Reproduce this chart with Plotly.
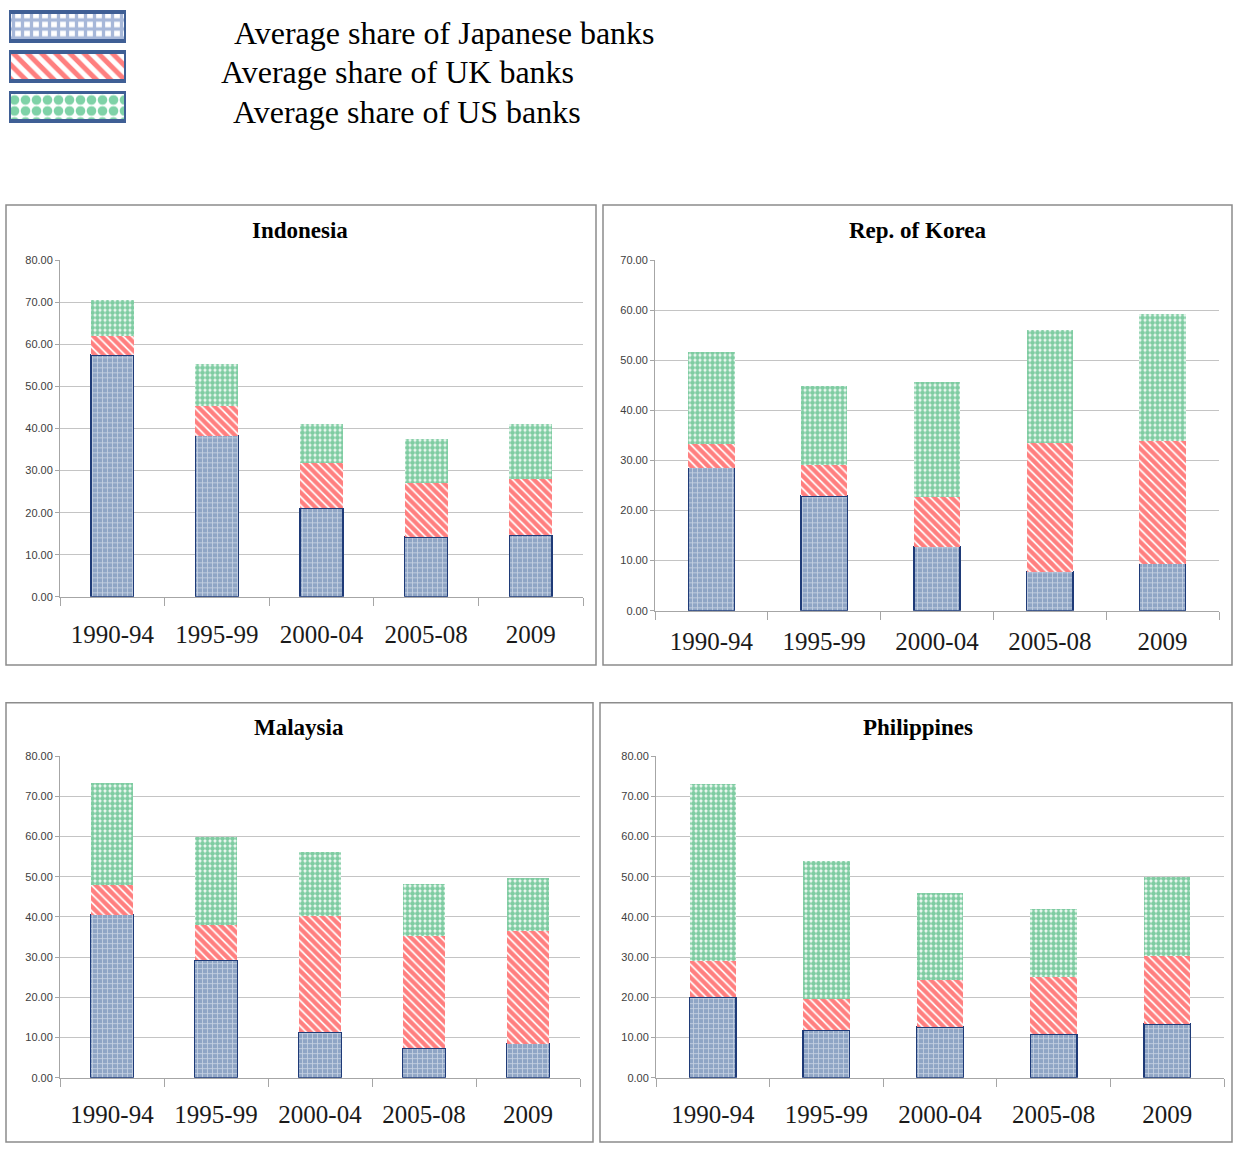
import plotly.graph_objects as go

W, H = 1233, 1155

categories = ["1990-94", "1995-99", "2000-04", "2005-08", "2009"]
series_names = ["Average share of Japanese banks", "Average share of UK banks", "Average share of US banks"]

indonesia_japan = [57.5, 38.3, 21.0, 14.2, 14.6]
indonesia_uk = [4.5, 7.0, 10.8, 12.8, 13.4]
indonesia_us = [8.5, 10.0, 9.2, 10.5, 13.2]

korea_japan = [28.6, 22.9, 12.8, 7.8, 9.4]
korea_uk = [4.7, 6.2, 9.9, 25.7, 24.5]
korea_us = [18.4, 15.7, 23.0, 22.5, 25.3]

malaysia_japan = [40.6, 29.2, 11.3, 7.3, 8.5]
malaysia_uk = [7.4, 8.8, 28.9, 27.9, 28.0]
malaysia_us = [25.4, 21.8, 16.0, 12.9, 13.2]

philippines_japan = [20.0, 11.8, 12.6, 10.8, 13.4]
philippines_uk = [9.1, 7.7, 11.7, 14.2, 17.0]
philippines_us = [44.0, 34.3, 21.7, 17.0, 19.6]

legend_swatch_value = [1, 1, 1]

panels = [
    ("Indonesia", indonesia_japan, indonesia_uk, indonesia_us, 80),
    ("Rep. of Korea", korea_japan, korea_uk, korea_us, 70),
    ("Malaysia", malaysia_japan, malaysia_uk, malaysia_us, 80),
    ("Philippines", philippines_japan, philippines_uk, philippines_us, 80),
]

# pixel geometry: plot area (x0,x1), (y_bottom,y_top), frame box, title pos, label standoff
geom = [
    dict(x=(60, 583), y=(597, 257), frame=(6, 201, 596, 666), title=(300, 227), standoff=15),
    dict(x=(655, 1219), y=(611, 257), frame=(603, 201, 1232, 666), title=(917, 227), standoff=8),
    dict(x=(60, 580), y=(1083, 758), frame=(6, 704, 593, 1148), title=(299, 729), standoff=14),
    dict(x=(656, 1224), y=(1083, 758), frame=(600, 704, 1232, 1148), title=(918, 729), standoff=14),
]

def px(x):
    return x / W

def py(y):
    return 1 - y / H

styles = [
    dict(pattern=dict(shape="+", fgcolor="#ffffff", bgcolor="#8fa5c5", size=5, solidity=0.3),
         line=dict(color="#1f3b78", width=1.5)),
    dict(pattern=dict(shape="\\", fgcolor="#ff0000", bgcolor="#ffffff", size=6, solidity=0.7),
         line=dict(color="rgba(0,0,0,0)", width=0)),
    dict(pattern=dict(shape=".", fgcolor="#009a45", bgcolor="#ffffff", size=5, solidity=0.75),
         line=dict(color="rgba(0,0,0,0)", width=0)),
]

legend_styles = [
    dict(shape="+", fgcolor="#4f72b3", bgcolor="#ffffff", size=9, solidity=0.6),
    dict(shape="\\", fgcolor="#ff0000", bgcolor="#ffffff", size=10, solidity=0.5),
    dict(shape=".", fgcolor="#00a550", bgcolor="#ffffff", size=11, solidity=0.6),
]

serif = "Liberation Serif"
fig = go.Figure()
layout = dict(
    width=W, height=H, margin=dict(l=0, r=0, t=0, b=0),
    paper_bgcolor="white", plot_bgcolor="white",
    barmode="stack", bargap=0.59, showlegend=False,
    shapes=[], annotations=[],
)

for i, (name, jp, uk, us, ymax) in enumerate(panels):
    n = i + 1
    xa = "x" if n == 1 else f"x{n}"
    ya = "y" if n == 1 else f"y{n}"
    for vals, st, sname in zip([jp, uk, us], styles, series_names):
        fig.add_trace(go.Bar(
            x=categories, y=vals, name=sname, xaxis=xa, yaxis=ya,
            marker=dict(pattern=st["pattern"], line=st["line"], color=st["pattern"]["bgcolor"]),
        ))
    g = geom[i]
    xkey = "xaxis" if n == 1 else f"xaxis{n}"
    ykey = "yaxis" if n == 1 else f"yaxis{n}"
    layout[xkey] = dict(
        domain=[px(g["x"][0]), px(g["x"][1])], anchor=ya, type="category",
        tickson="boundaries", ticks="outside", ticklen=8, tickcolor="#a6a6a6",
        showline=True, linecolor="#a6a6a6", linewidth=1, showgrid=False,
        tickfont=dict(family=serif, size=25, color="#1a1a1a"),
        ticklabelstandoff=g["standoff"], fixedrange=True,
    )
    layout[ykey] = dict(
        domain=[py(g["y"][0]), py(g["y"][1])], anchor=xa,
        range=[0, ymax], tickvals=list(range(0, ymax + 1, 10)), tickformat=".2f",
        ticks="outside", ticklen=4, tickcolor="#a6a6a6",
        showline=True, linecolor="#a6a6a6", linewidth=1,
        showgrid=True, gridcolor="#c4c4c4", gridwidth=1.3, zeroline=False,
        tickfont=dict(family="Liberation Sans", size=11, color="#404040"),
        fixedrange=True,
    )
    fx0, fy0, fx1, fy1 = g["frame"]
    layout["shapes"].append(dict(
        type="rect", xref="paper", yref="paper",
        x0=px(fx0), x1=px(fx1), y0=py(fy1), y1=py(fy0),
        line=dict(color="#8c8c8c", width=1.5), fillcolor="rgba(0,0,0,0)", layer="below",
    ))
    tx, ty = g["title"]
    layout["annotations"].append(dict(
        text=f"<b>{name}</b>", xref="paper", yref="paper", x=px(tx), y=py(ty),
        xanchor="center", yanchor="middle", showarrow=False,
        font=dict(family=serif, size=23, color="#000000"),
    ))

# legend swatches drawn as small horizontal bars in their own axis
legend_pos = [0, 1, 2]
for k, pat in enumerate(legend_styles):
    fig.add_trace(go.Bar(
        x=[legend_swatch_value[k]], y=[legend_pos[k]], orientation="h",
        xaxis="x5", yaxis="y5", width=0.72, name=series_names[k],
        marker=dict(pattern=pat, color=pat["bgcolor"],
                    line=dict(color="#3f5f95", width=3.5)),
    ))
layout["xaxis5"] = dict(domain=[px(9), px(126)], anchor="y5", range=[0, 1],
                        visible=False, fixedrange=True)
layout["yaxis5"] = dict(domain=[py(122), py(0.5)], anchor="x5", range=[2.5, -0.5],
                        visible=False, fixedrange=True)

legend_text_pos = [(232, 27), (219, 67), (231, 107)]
for (lx, ly), sname in zip(legend_text_pos, series_names):
    layout["annotations"].append(dict(
        text=sname, xref="paper", yref="paper", x=px(lx), y=py(ly),
        xanchor="left", yanchor="middle", showarrow=False,
        font=dict(family=serif, size=32, color="#000000"),
    ))

fig.update_layout(**layout)
fig.write_html("out.html")
